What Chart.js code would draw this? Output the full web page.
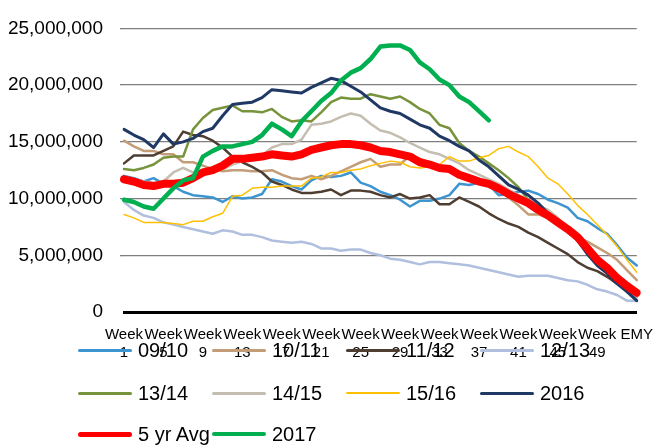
<!DOCTYPE html>
<html>
<head>
    <title>Weekly Stocks</title>
    <script src="https://cdn.jsdelivr.net/npm/chart.js"></script>
    <style>
        body {
            margin: 0;
            background: #fff;
            font-family: 'Liberation Sans', Arial, sans-serif;
        }
        #wrap {
            position: relative;
            width: 667px;
            height: 447px;
        }
        .item {
            position: absolute;
            height: 24px;
            line-height: 24px;
            font-size: 20px;
            color: #000;
            white-space: nowrap;
        }
        .swatch {
            position: absolute;
            left: 0;
            width: 54px;
        }
        .label {
            position: absolute;
            left: 60px;
            top: 0;
        }
    </style>
</head>
<body>
    <div id="wrap">
        <canvas id="stockChart" width="667" height="447"></canvas>
        <div id="legend"></div>
    </div>

    <script>
        // x categories: Week 1 .. Week 52, then EMY
        var weeks = [];
        for (var w = 1; w <= 52; w++) weeks.push('Week ' + w);
        weeks.push('EMY');

        var yTicks = [0, 5000000, 10000000, 15000000, 20000000, 25000000];

        // values, in millions
        var s0910 = [12.0,11.8,11.5,11.8,11.3,11.1,10.6,10.3,10.2,10.1, 9.7,10.2,10.0,10.1,10.4,11.7,11.5,11.1,10.8,11.6,
                     12.0,11.9,12.0,12.3,11.4,11.1,10.6,10.3,9.9,9.3, 9.8,9.8,10.0,10.3,11.3,11.2,11.4,11.2,10.3,10.4,
                     10.6,10.7,10.4,9.9,9.6,9.2,8.3,8.0,7.4,6.9, 5.9,4.8,4.1];
        var s1011 = [15.1,14.6,14.2,14.2,13.9,13.9,13.2,13.2,12.9,12.6, 12.4,12.5,12.5,12.4,12.4,12.5,12.1,11.8,11.7,12.0,
                     11.7,12.0,12.4,12.8,13.2,13.5,12.8,13.0,13.0,13.8, 13.5,13.2,12.9,12.7,12.3,12.0,11.7,11.4,10.8,10.1,
                     9.4,8.6,8.6,8.3,7.9,7.2,6.6,6.2,5.7,5.2, 4.6,3.7,2.8];
        var s1112 = [13.1,13.8,13.8,13.8,14.2,14.6,15.9,15.6,15.5,15.1, 14.5,13.7,13.2,12.8,12.3,11.5,11.2,10.8,10.5,10.5,
                     10.6,10.8,10.3,10.7,10.7,10.6,10.3,10.1,10.4,10.0, 10.1,10.3,9.5,9.5,10.1,9.7,9.3,8.7,8.2,7.8,
                     7.5,7.0,6.6,6.1,5.6,5.1,4.4,3.9,3.6,3.1, 2.5,2.1,1.7];
        var s1213 = [9.7,9.0,8.5,8.3,7.9,7.7,7.5,7.3,7.1,6.9, 7.2,7.1,6.8,6.8,6.6,6.3,6.2,6.1,6.2,6.0,
                     5.6,5.6,5.4,5.5,5.5,5.2,5.0,4.7,4.6,4.4, 4.2,4.4,4.4,4.3,4.2,4.1,3.9,3.7,3.5,3.3,
                     3.1,3.2,3.2,3.2,3.0,2.8,2.7,2.4,2.0,1.8, 1.5,1.0,1.0];
        var s1314 = [12.6,12.5,12.7,13.0,13.6,13.7,13.7,16.1,17.1,17.8, 18.0,18.2,17.7,17.7,17.6,17.9,17.2,16.8,16.9,16.8,
                     17.6,18.5,18.9,18.8,18.8,19.2,19.0,18.8,19.0,18.5, 17.9,17.5,16.5,16.2,14.9,14.2,13.7,13.1,12.5,11.8,
                     11.0,9.9,9.3,8.6,8.0,7.2,6.3,5.5,4.5,3.7, 2.8,2.0,1.3];
        var s1415 = [11.9,11.7,11.5,11.4,11.5,12.3,12.7,12.3,12.3,12.4, 12.6,13.0,13.3,13.5,13.8,14.5,14.8,14.8,15.2,16.5,
                     16.6,16.8,17.2,17.5,17.3,16.6,16.0,15.8,15.4,14.9, 14.5,14.1,13.9,13.5,13.1,12.5,12.1,11.7,11.3,10.8,
                     10.3,9.9,9.4,9.0,8.3,7.3,6.6,5.8,4.8,3.8, 3.0,2.1,1.3];
        var s1516 = [8.6,8.3,7.9,7.9,7.9,7.8,7.7,8.0,8.0,8.4, 8.7,10.2,10.3,10.9,11.0,11.0,11.1,11.1,11.1,11.8,
                     11.9,12.3,12.3,12.5,12.6,12.9,13.1,13.3,13.2,12.8, 12.7,12.8,13.0,13.7,13.3,13.3,13.6,13.8,14.4,14.6,
                     14.1,13.7,12.8,11.8,11.3,10.4,9.4,8.6,7.7,6.8, 5.8,4.6,3.5];
        var s2016 = [16.1,15.6,15.2,14.5,15.7,14.8,15.0,15.3,15.9,16.2, 17.3,18.3,18.4,18.5,18.9,19.6,19.5,19.4,19.3,19.8,
                     20.2,20.6,20.4,19.9,19.4,18.7,18.0,17.7,17.5,17.0, 16.5,16.2,15.5,15.1,14.6,14.2,13.4,12.8,12.0,11.2,
                     10.8,10.3,9.6,8.7,7.9,7.2,6.3,5.1,4.1,3.4, 2.5,1.8,1.0];
        var s5yr  = [11.7,11.5,11.2,11.1,11.3,11.3,11.4,11.8,12.3,12.5, 12.9,13.5,13.5,13.6,13.7,13.9,13.8,13.7,13.9,14.3,
                     14.5,14.7,14.8,14.8,14.7,14.5,14.2,14.1,13.9,13.7, 13.2,13.0,12.7,12.6,12.1,11.8,11.5,11.3,10.9,10.4,
                     10.0,9.6,9.0,8.5,7.9,7.3,6.6,5.6,4.6,3.9, 3.0,2.3,1.7];
        var s2017 = [9.9,9.7,9.3,9.1,10.0,10.9,11.6,11.8,13.7,14.2, 14.6,14.6,14.8,15.0,15.6,16.6,16.1,15.5,16.8,17.7,
                     18.6,19.3,20.4,21.1,21.5,22.3,23.4,23.5,23.5,23.1, 22.0,21.4,20.5,20.0,19.0,18.5,17.7,16.9];

        var series = [
            { name: '09/10',    data: s0910, color: '#3C94D0', width: 2.5, key: 3 },
            { name: '10/11',    data: s1011, color: '#C39C78', width: 2.5, key: 3 },
            { name: '11/12',    data: s1112, color: '#4E3D31', width: 2.5, key: 3 },
            { name: '12/13',    data: s1213, color: '#AFBFDD', width: 2.5, key: 3 },
            { name: '13/14',    data: s1314, color: '#77933C', width: 2.5, key: 3 },
            { name: '14/15',    data: s1415, color: '#C4BEB1', width: 2.5, key: 3 },
            { name: '15/16',    data: s1516, color: '#FFC000', width: 1.5, key: 2 },
            { name: '2016',     data: s2016, color: '#1F3864', width: 3,   key: 3 },
            { name: '5 yr Avg', data: s5yr,  color: '#FF0000', width: 8,   key: 5 },
            { name: '2017',     data: s2017, color: '#00B050', width: 4.5, key: 4 }
        ];

        var datasets = series.map(function(s, i) {
            return {
                label: s.name,
                data: s.data.map(function(v) { return v * 1000000; }),
                borderColor: s.color,
                backgroundColor: s.color,
                borderWidth: s.width,
                pointRadius: 0,
                tension: 0,
                fill: false,
                borderCapStyle: 'round',
                borderJoinStyle: 'round',
                order: series.length - i   // later series drawn on top
            };
        });

        var ctx = document.getElementById('stockChart').getContext('2d');
        var stockChart = new Chart(ctx, {
            type: 'line',
            data: { labels: weeks, datasets: datasets },
            options: {
                responsive: false,
                animation: false,
                devicePixelRatio: 1,
                layout: { padding: { top: 16, right: 18, left: 0, bottom: 0 } },
                plugins: { legend: { display: false }, tooltip: { enabled: false } },
                scales: {
                    x: {
                        grid: { display: false, drawTicks: false },
                        border: { display: true, color: '#000', width: 3 },
                        ticks: {
                            autoSkip: false,
                            maxRotation: 0,
                            minRotation: 0,
                            padding: 14,
                            color: '#000',
                            font: { family: "'Liberation Sans', Arial, sans-serif", size: 15, lineHeight: 1.2 },
                            callback: function(val, i) {
                                var lab = weeks[i];
                                if (i % 4 !== 0) return null;
                                if (lab === 'EMY') return 'EMY';
                                return lab.split(' ');
                            }
                        },
                        afterFit: function(scale) { scale.height = 135; }
                    },
                    y: {
                        min: yTicks[0],
                        max: yTicks[yTicks.length - 1],
                        afterBuildTicks: function(scale) {
                            scale.ticks = yTicks.map(function(v) { return { value: v }; });
                        },
                        grid: {
                            color: function(c) { return c.tick && c.tick.value === 0 ? 'rgba(0,0,0,0)' : '#7f7f7f'; },
                            lineWidth: 1.3,
                            tickLength: 4
                        },
                        border: { display: false },
                        ticks: {
                            padding: 17,
                            color: '#000',
                            font: { family: "'Liberation Sans', Arial, sans-serif", size: 19 },
                            callback: function(v) { return Number(v).toLocaleString('en-US'); }
                        },
                        afterFit: function(scale) { scale.width = 124; }
                    }
                }
            }
        });

        // legend laid out like the original: 4 columns, 3 rows, over the axis labels
        var legendCols = [78, 212, 346, 480];
        var legendRows = [350, 393, 434];
        var legend = document.getElementById('legend');
        series.forEach(function(s, i) {
            var item = document.createElement('div');
            item.className = 'item';
            item.style.left = legendCols[i % 4] + 'px';
            item.style.top = (legendRows[Math.floor(i / 4)] - 12) + 'px';
            var sw = document.createElement('span');
            sw.className = 'swatch';
            sw.style.height = s.key + 'px';
            sw.style.top = (12 - s.key / 2) + 'px';
            sw.style.background = s.color;
            sw.style.borderRadius = (s.key / 2) + 'px';
            var tx = document.createElement('span');
            tx.className = 'label';
            tx.textContent = s.name;
            item.appendChild(sw);
            item.appendChild(tx);
            legend.appendChild(item);
        });
    </script>
</body>
</html>
